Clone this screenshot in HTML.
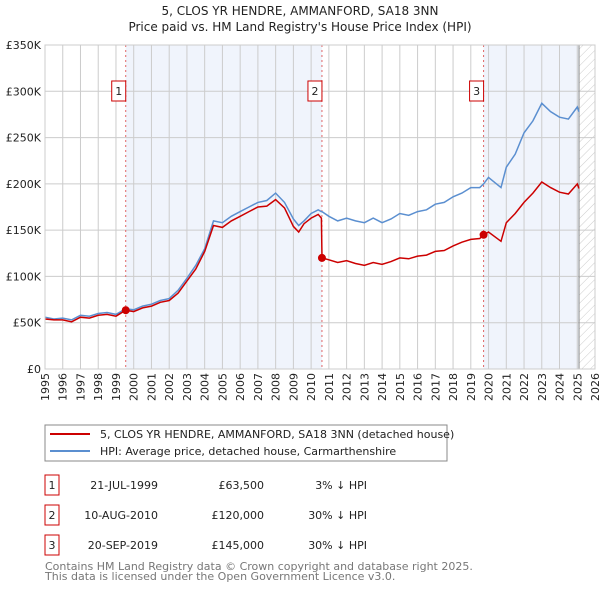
<!DOCTYPE html>
<html><head><meta charset="utf-8"><style>
body{margin:0;background:#fff;width:600px;height:590px;overflow:hidden;font-family:"DejaVu Sans","Liberation Sans",sans-serif}
svg text{font-family:"DejaVu Sans","Liberation Sans",sans-serif}
</style></head><body>
<svg id="c" width="600" height="590" xmlns="http://www.w3.org/2000/svg">
<defs><pattern id="hatch" width="6" height="6" patternUnits="userSpaceOnUse" patternTransform="rotate(45)"><line x1="0" y1="0" x2="0" y2="6" stroke="#ccc" stroke-width="1"/></pattern></defs>
<text x="300" y="15" text-anchor="middle" font-size="12" fill="#222">5, CLOS YR HENDRE, AMMANFORD, SA18 3NN</text>
<text x="300" y="31" text-anchor="middle" font-size="12" fill="#222">Price paid vs. HM Land Registry's House Price Index (HPI)</text>
<g id="plot"></g>
<rect x="45" y="425" width="402" height="36" fill="#fff" stroke="#888"/>
<line x1="50" y1="434" x2="90" y2="434" stroke="#cc0000" stroke-width="2"/>
<text x="100" y="438" font-size="11" fill="#222">5, CLOS YR HENDRE, AMMANFORD, SA18 3NN (detached house)</text>
<line x1="50" y1="451" x2="90" y2="451" stroke="#5b8fd0" stroke-width="2"/>
<text x="100" y="455" font-size="11" fill="#222">HPI: Average price, detached house, Carmarthenshire</text>
<g id="table" font-size="11" fill="#222"></g>
<text x="45" y="570" font-size="11" fill="#777">Contains HM Land Registry data © Crown copyright and database right 2025.</text>
<text x="45" y="580" font-size="11" fill="#777">This data is licensed under the Open Government Licence v3.0.</text>
</svg>
<script>
const dates=[1995,1995.5,1996,1996.5,1997,1997.5,1998,1998.5,1999,1999.55,2000,2000.5,2001,2001.5,2002,2002.5,2003,2003.5,2004,2004.5,2005,2005.5,2006,2006.5,2007,2007.5,2008,2008.5,2009,2009.3,2009.6,2010,2010.4,2010.58,2010.61,2011,2011.5,2012,2012.5,2013,2013.5,2014,2014.5,2015,2015.5,2016,2016.5,2017,2017.5,2018,2018.5,2019,2019.5,2019.72,2020,2020.7,2021,2021.5,2022,2022.5,2023,2023.5,2024,2024.5,2025,2025.1];
const hpiValues=[56,54,55,53,58,57,60,61,59,65,64,68,70,74,76,85,98,112,130,160,158,165,170,175,180,182,190,180,162,155,160,168,172,170,170,165,160,163,160,158,163,158,162,168,166,170,172,178,180,186,190,196,196,200,207,196,218,232,255,268,287,278,272,270,283,278];
const propertyValues=[54,53,53,51,56,55,58,59,57,63.5,62,66,68,72,74,82,95,108,127,155,153,160,165,170,175,176,183,174,154,148,157,163,167,163,120,118,115,117,114,112,115,113,116,120,119,122,123,127,128,133,137,140,141,145,148,138,158,168,180,190,202,196,191,189,200,195];
const saleDates=[1999.55,2010.61,2019.72];
const salePrices=[63.5,120,145];
const saleLabels=["1","2","3"];
const saleDateText=["21-JUL-1999","10-AUG-2010","20-SEP-2019"];
const salePriceText=["£63,500","£120,000","£145,000"];
const salePctText=["3% ↓ HPI","30% ↓ HPI","30% ↓ HPI"];
const yTicks=[0,50,100,150,200,250,300,350];
const yTickLabels=["£0","£50K","£100K","£150K","£200K","£250K","£300K","£350K"];
const xTicks=[];for(let y=1995;y<=2026;y++)xTicks.push(y);

const X0=45,X1=595,Y0=369,Y1=45;
const xs=d=>X0+(d-1995)/(2026-1995)*(X1-X0);
const ys=v=>Y0-v/350*(Y0-Y1);
const NS="http://www.w3.org/2000/svg";
const plot=document.getElementById('plot');
function mk(tag,attrs,parent){const e=document.createElementNS(NS,tag);for(const k in attrs)e.setAttribute(k,attrs[k]);(parent||plot).appendChild(e);return e;}

let e;
e=mk('rect',{x:xs(saleDates[0]),y:Y1,width:xs(saleDates[1])-xs(saleDates[0]),height:Y0-Y1,fill:'#f0f4fc'});


e=mk('rect',{x:xs(saleDates[2]),y:Y1,width:xs(2025.1)-xs(saleDates[2]),height:Y0-Y1,fill:'#f0f4fc'});


e=mk('rect',{x:xs(2025.1),y:Y1,width:X1-xs(2025.1),height:Y0-Y1,fill:'url(#hatch)'});


xTicks.forEach(t=>{
 e=mk('line',{x1:xs(t),x2:xs(t),y1:Y1,y2:Y0,stroke:'#ccc','stroke-width':1});
 
 
 const tx=xs(t)+4,ty=Y0+4;
 e=mk('text',{x:tx,y:ty,'text-anchor':'end','font-size':11,fill:'#222',transform:'rotate(-90 '+tx+' '+ty+')'});
 e.textContent=t;
 
 
});
yTicks.forEach((t,i)=>{
 e=mk('line',{x1:X0,x2:X1,y1:ys(t),y2:ys(t),stroke:'#ccc','stroke-width':1});
 
 
 e=mk('text',{x:X0-4,y:ys(t)+4,'text-anchor':'end','font-size':11,fill:'#222'});
 e.textContent=yTickLabels[i];
 
 
});
e=mk('line',{x1:xs(2025.1),x2:xs(2025.1),y1:Y1,y2:Y0,stroke:'#888','stroke-width':1});


saleDates.forEach((d,i)=>{
 e=mk('line',{x1:xs(d),x2:xs(d),y1:Y1,y2:Y0,stroke:'#e06666','stroke-width':1,'stroke-dasharray':'2,3'});
 
 
});
const pts=v=>dates.map((d,i)=>xs(d).toFixed(1)+','+ys(v[i]).toFixed(1)).join(' ');
e=mk('polyline',{points:pts(hpiValues),fill:'none',stroke:'#5b8fd0','stroke-width':1.5});


e=mk('polyline',{points:pts(propertyValues),fill:'none',stroke:'#cc0000','stroke-width':1.5});


saleDates.forEach((d,i)=>{
 e=mk('circle',{cx:xs(d),cy:ys(salePrices[i]),r:4,fill:'#cc0000'});
 
 
 e=mk('rect',{x:xs(d)-14,y:81,width:14,height:20,fill:'#fff',stroke:'#c00'});
 
 
 e=mk('text',{x:xs(d)-7,y:95,'text-anchor':'middle','font-size':11,fill:'#222'});
 e.textContent=saleLabels[i];
 
 
});
e=mk('rect',{x:X0,y:Y1,width:X1-X0,height:Y0-Y1,fill:'none',stroke:'#ccc'});



const tbl=document.getElementById('table');
saleLabels.forEach((l,i)=>{
 const y=475+i*30;
 e=mk('rect',{x:45,y:y,width:14,height:20,fill:'#fff',stroke:'#c00'},tbl);
 
 
 e=mk('text',{x:52,y:y+14,'text-anchor':'middle'},tbl);e.textContent=l;
 
 
 e=mk('text',{x:158,y:y+14,'text-anchor':'end'},tbl);e.textContent=saleDateText[i];
 
 
 e=mk('text',{x:264,y:y+14,'text-anchor':'end'},tbl);e.textContent=salePriceText[i];
 
 
 e=mk('text',{x:367,y:y+14,'text-anchor':'end'},tbl);e.textContent=salePctText[i];
 
 
});
</script>
</body></html>
